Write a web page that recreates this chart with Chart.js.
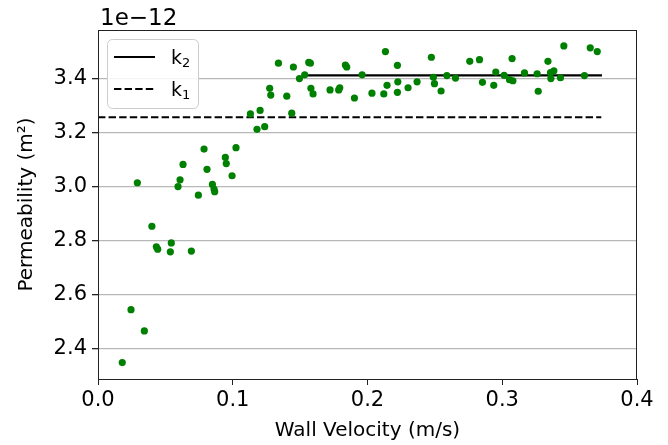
<!DOCTYPE html>
<html>
<head>
<meta charset="utf-8">
<script src="https://cdn.jsdelivr.net/npm/chart.js@4.4.1/dist/chart.umd.min.js"></script>
<style>
  html, body { margin: 0; padding: 0; background: #fff; }
  #wrap { width: 668px; height: 445px; }
</style>
</head>
<body>
<div id="wrap"><canvas id="chart" width="668" height="445"></canvas></div>
<script>
// Wall velocity (m/s) of each sample
const velocity = [
    0.018, 0.0245, 0.0292, 0.0344, 0.040, 0.0433, 0.0443, 0.0537, 0.0544, 0.0594,
    0.0609, 0.0631, 0.0693, 0.0745, 0.0787, 0.0809, 0.0849, 0.0861, 0.0866, 0.0945,
    0.0952, 0.0995, 0.1024, 0.1131, 0.118, 0.1203, 0.1237, 0.1274, 0.1282, 0.1339,
    0.1401, 0.1438, 0.145, 0.1495, 0.1534, 0.1564, 0.1576, 0.158, 0.1596, 0.1722,
    0.1786, 0.1794, 0.1836, 0.1846, 0.1903, 0.196, 0.2033, 0.2121, 0.2133, 0.2145,
    0.2222, 0.2225, 0.2222, 0.2301, 0.2368, 0.2474, 0.2489, 0.2497, 0.2546, 0.2589,
    0.2653, 0.2759, 0.2831, 0.2853, 0.2937, 0.2952, 0.3014, 0.3054, 0.3073, 0.3079,
    0.3165, 0.3259, 0.3267, 0.3339, 0.3358, 0.3361, 0.3383, 0.3432, 0.3457, 0.361,
    0.3653, 0.3705
]

// Permeability, in units of 1e-12 m^2
const permeability = [
    2.347, 2.543, 3.013, 2.464, 2.852, 2.776, 2.767, 2.757, 2.790, 2.999,
    3.024, 3.081, 2.760, 2.967, 3.138, 3.063, 3.007, 2.990, 2.980, 3.107,
    3.084, 3.039, 3.143, 3.268, 3.211, 3.281, 3.221, 3.363, 3.338, 3.456,
    3.334, 3.271, 3.442, 3.399, 3.413, 3.459, 3.456, 3.363, 3.342, 3.357,
    3.357, 3.365, 3.449, 3.442, 3.327, 3.413, 3.345, 3.342, 3.499, 3.374,
    3.448, 3.387, 3.348, 3.365, 3.387, 3.478, 3.404, 3.380, 3.353, 3.410,
    3.401, 3.463, 3.469, 3.385, 3.374, 3.423, 3.411, 3.395, 3.473, 3.391,
    3.420, 3.417, 3.352, 3.463, 3.421, 3.399, 3.428, 3.402, 3.520, 3.410,
    3.513, 3.499
]

// Reference levels: start / end velocity and value
const k1Range = [0.0, 0.3735]
const k1Value = 3.256
const k2Range = [0.155, 0.374]
const k2Value = 3.411

const xTicks = [0.0, 0.1, 0.2, 0.3, 0.4]
const yTicks = [2.4, 2.6, 2.8, 3.0, 3.2, 3.4]

const FONT = 'DejaVu Sans'

// draws "k" with a lowered, smaller subscript digit
function drawSubLabel(ctx, base, sub, x, baseline) {
    ctx.font = `19px "${FONT}"`
    ctx.fillText(base, x, baseline)
    const w = ctx.measureText(base).width
    ctx.font = `13px "${FONT}"`
    ctx.fillText(sub, x + w, baseline + 2.5)
}

// Top/right spines, offset text and legend box
const decorations = {
    id: 'decorations',
    afterDatasetsDraw(chart) {
        const { ctx, chartArea: a } = chart
        ctx.save()
        ctx.strokeStyle = '#222'
        ctx.lineWidth = 1
        ctx.strokeRect(a.left + 0.5, a.top + 0.5, a.right - a.left - 1, a.bottom - a.top)

        ctx.fillStyle = '#000'
        ctx.font = `23px "${FONT}"`
        ctx.textAlign = 'left'
        ctx.textBaseline = 'alphabetic'
        ctx.fillText('1e\u221212', a.left + 2, 25)

        // legend
        const bx = 107, by = 39, bw = 91, bh = 69
        ctx.beginPath()
        ctx.roundRect(bx + 0.5, by + 0.5, bw, bh, 5)
        ctx.fillStyle = 'rgba(255,255,255,0.85)'
        ctx.fill()
        ctx.strokeStyle = '#cccccc'
        ctx.stroke()

        ctx.strokeStyle = '#000'
        ctx.lineWidth = 2
        ctx.beginPath()
        ctx.moveTo(114, 57)
        ctx.lineTo(155, 57)
        ctx.stroke()
        ctx.setLineDash([7.4, 3.2])
        ctx.beginPath()
        ctx.moveTo(114, 89)
        ctx.lineTo(155, 89)
        ctx.stroke()
        ctx.setLineDash([])

        ctx.fillStyle = '#000'
        drawSubLabel(ctx, 'k', '2', 171, 64)
        drawSubLabel(ctx, 'k', '1', 171, 96)
        ctx.restore()
    }
}

const points = velocity.map((v, i) => ({ x: v, y: permeability[i] }))

const data = {
    datasets: [
        {
            label: 'data',
            data: points,
            backgroundColor: 'green',
            borderWidth: 0,
            pointRadius: 3.6,
            order: 0
        },
        {
            type: 'line',
            label: 'k2',
            data: k2Range.map(x => ({ x: x, y: k2Value })),
            borderColor: '#000',
            borderWidth: 2.2,
            pointRadius: 0,
            order: 1
        },
        {
            type: 'line',
            label: 'k1',
            data: k1Range.map(x => ({ x: x, y: k1Value })),
            borderColor: '#000',
            borderWidth: 2,
            borderDash: [7.4, 3.2],
            pointRadius: 0,
            order: 1
        }
    ]
}

const config = {
    type: 'scatter',
    data: data,
    options: {
        responsive: false,
        animation: false,
        devicePixelRatio: 1,
        layout: { padding: { top: 30, right: 31, left: 0, bottom: 0 } },
        plugins: {
            legend: { display: false },
            tooltip: { enabled: false }
        },
        scales: {
            x: {
                type: 'linear',
                min: 0,
                max: 0.4,
                afterFit: scale => { scale.height = 66 },
                afterBuildTicks: scale => { scale.ticks = xTicks.map(v => ({ value: v })) },
                border: { color: '#222', width: 1 },
                grid: {
                    drawOnChartArea: false,
                    tickColor: '#222',
                    tickLength: 6
                },
                ticks: {
                    color: '#000',
                    padding: 3,
                    font: { family: FONT, size: 21 },
                    callback: v => v.toFixed(1)
                },
                title: {
                    display: true,
                    text: 'Wall Velocity (m/s)',
                    color: '#000',
                    font: { family: FONT, size: 20 },
                    padding: { top: 0, bottom: 2 }
                }
            },
            y: {
                type: 'linear',
                min: 2.286,
                max: 3.579,
                afterFit: scale => { scale.width = 98 },
                afterBuildTicks: scale => { scale.ticks = yTicks.map(v => ({ value: v })) },
                border: { color: '#222', width: 1 },
                grid: {
                    color: '#b8b8b8',
                    lineWidth: 1.3,
                    tickColor: '#222',
                    tickLength: 6
                },
                ticks: {
                    color: '#000',
                    padding: 5,
                    font: { family: FONT, size: 21 },
                    callback: v => v.toFixed(1)
                },
                title: {
                    display: true,
                    text: 'Permeability (m\u00b2)',
                    color: '#000',
                    font: { family: FONT, size: 20 },
                    padding: { top: 15, bottom: 0 }
                }
            }
        }
    },
    plugins: [decorations]
}

const ctx = document.getElementById('chart').getContext('2d')
new Chart(ctx, config)
</script>
</body>
</html>
